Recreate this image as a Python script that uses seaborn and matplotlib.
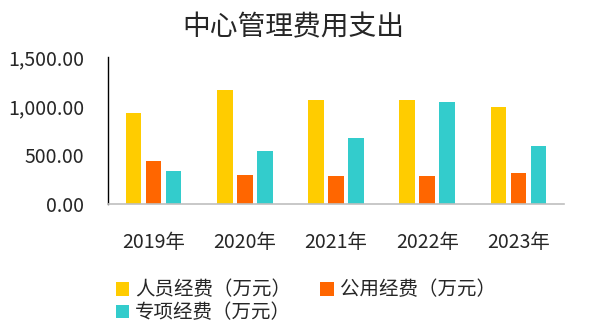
import matplotlib
matplotlib.use("Agg")
import matplotlib.pyplot as plt
import seaborn as sns
import pandas as pd
from matplotlib.ticker import FuncFormatter

# 年度与各项经费（万元）
years = ["2019年", "2020年", "2021年", "2022年", "2023年"]
series_names = ["人员经费（万元）", "公用经费（万元）", "专项经费（万元）"]
personnel = [925, 1165, 1064, 1064, 993]
public_use = [436, 294, 284, 284, 314]
special = [334, 537, 669, 1044, 588]
colors = ["#FFCC00", "#FF6600", "#33CCCC"]
y_ticks = [0, 500, 1000, 1500]

sns.set_theme(style="white")
plt.rcParams["font.family"] = ["Noto Sans CJK SC", "DejaVu Sans"]

rows = []
for name, vals in zip(series_names, [personnel, public_use, special]):
    for y, v in zip(years, vals):
        rows.append({"年份": y, "类别": name, "金额": v})
df = pd.DataFrame(rows)

fig = plt.figure(figsize=(5.9, 3.36), dpi=100)
ax = fig.add_axes([0.183, 0.393, 0.773, 0.437])

sns.barplot(data=df, x="年份", y="金额", hue="类别", hue_order=series_names,
            palette=colors, width=0.66, gap=0.22, saturation=1,
            edgecolor="none", ax=ax, legend=True)

ax.set_ylim(0, 1500)
ax.set_yticks(y_ticks)
ax.yaxis.set_major_formatter(FuncFormatter(lambda v, p: f"{v:,.2f}"))
ax.set_xlabel("")
ax.set_ylabel("")
ax.tick_params(axis="y", length=0, labelsize=14, labelcolor="#262626", pad=17)
ax.tick_params(axis="x", length=0, labelsize=14, labelcolor="#262626", pad=20)

for s in ["top", "right"]:
    ax.spines[s].set_visible(False)
ax.spines["left"].set_color("black")
ax.spines["left"].set_linewidth(1.0)
ax.spines["bottom"].set_color("#BFBFBF")
ax.spines["bottom"].set_linewidth(1.2)

# 图例：两列，按行排布
handles, labels = ax.get_legend_handles_labels()
ax.get_legend().remove()
order = [0, 2, 1]
fig.legend([handles[i] for i in order], [labels[i] for i in order],
           ncol=2, loc="upper left", bbox_to_anchor=(0.196, 0.168),
           frameon=False, fontsize=14, handlelength=0.7, handleheight=0.7,
           handletextpad=0.3, columnspacing=1.5, labelspacing=0.1,
           borderaxespad=0, borderpad=0, labelcolor="#262626")

fig.text(0.497, 0.918, "中心管理费用支出", ha="center", va="center",
         fontsize=20, color="#262626", fontweight="medium")

fig.savefig("out.png", dpi=100)
